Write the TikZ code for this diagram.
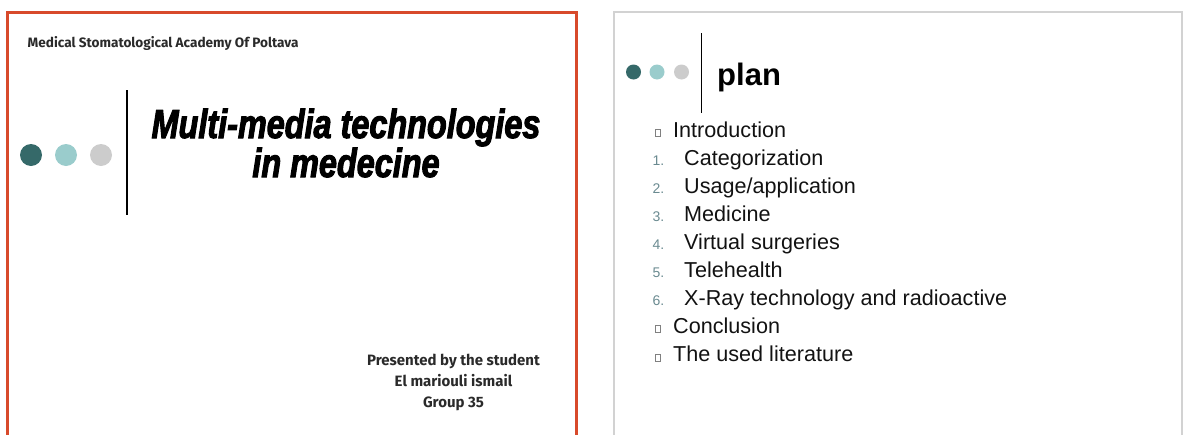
\documentclass[tikz,border=0pt]{standalone}
\usepackage{fontspec}
\setmainfont{Liberation Sans}
\newfontfamily\firafont{Fira Sans}
\newfontfamily\titlefont[FakeStretch=0.8,FakeBold=2.5]{Liberation Sans}
\usetikzlibrary{positioning}
\definecolor{slideorange}{HTML}{D84A2B}
\definecolor{darkteal}{HTML}{356969}
\definecolor{lightteal}{HTML}{9ACCCC}
\definecolor{dotgray}{HTML}{CCCCCC}
\definecolor{framegray}{HTML}{D2D2D2}
\definecolor{numgray}{HTML}{6A8A90}
\definecolor{textdark}{HTML}{2A2A2A}
\tikzset{
  dot/.style={circle,inner sep=0pt,minimum size=#1},
  titletext/.style={inner sep=0pt,font=\titlefont\bfseries\itshape\fontsize{40.5}{44}\selectfont},
  firatext/.style={inner sep=0pt,text=textdark,font=\firafont\bfseries\fontsize{#1}{#1}\selectfont},
  item/.style={inner sep=0pt,anchor=base west,text=black!93,font=\fontsize{21.6}{25}\selectfont},
  num/.style={inner sep=0pt,anchor=base west,text=numgray,font=\fontsize{14}{16}\selectfont},
  bulletbox/.style={draw=black!50,line width=0.6pt,inner sep=0pt,minimum width=5pt,minimum height=7pt}
}

\begin{document}
\begin{tikzpicture}[x=1pt,y=-1pt]
  \useasboundingbox (0,0) rectangle (1201,434);
  \clip (0,0) rectangle (1201,434);

  % title slide
  \draw[slideorange,line width=3pt] (7.5,450) |- (576.3,12) -- (576.3,450);
  \node[firatext=13.6,anchor=base west] (academy) at (27.5,47) {Medical Stomatological Academy Of Poltava};

  \foreach \c [count=\k from 0] in {darkteal,lightteal,dotgray}
    \node[dot=22pt,fill=\c] (ldot\k) at (31+35*\k,155) {};
  \draw[line width=1.8pt] (127,90) -- (127,215);

  \node[titletext,anchor=base] (title) at (346,138) {Multi-media technologies};
  \node[titletext,anchor=base] (subtitle) at (346,177) {in medecine};

  \node[firatext=15,anchor=base] (presented) at (453.5,365.7) {Presented by the student};
  \node[firatext=15,anchor=base] (student) at (453.5,386.7) {El mariouli ismail};
  \node[firatext=15,anchor=base] (group) at (453.5,407.7) {Group 35};

  % plan slide
  \draw[framegray,line width=1.2pt] (614,450) |- (1182,12) -- (1182,450);

  \foreach \c/\x [count=\k from 0] in {darkteal/633.5,lightteal/657,dotgray/681.5}
    \node[dot=15pt,fill=\c] (rdot\k) at (\x,72) {};
  \draw[line width=1.8pt] (701.5,33) -- (701.5,113);

  \node[inner sep=0pt,anchor=base west,font=\bfseries\fontsize{31}{36}\selectfont] (plan) at (717,85) {plan};

  \foreach \i/\txt in {0/Introduction,7/Conclusion,8/The used literature}
  {
    \node[bulletbox] (box\i) at (657.5,132.5+28.1*\i) {};
    \node[item] (item\i) at (673,137+28.1*\i) {\txt};
  }
  \foreach \i/\txt in {1/Categorization,2/{Usage/application},3/Medicine,4/Virtual surgeries,5/Telehealth,6/X-Ray technology and radioactive}
  {
    \node[num] (num\i) at (652.5,137+28.1*\i) {\i.};
    \node[item] (item\i) at (684,137+28.1*\i) {\txt};
  }

\end{tikzpicture}
\end{document}
